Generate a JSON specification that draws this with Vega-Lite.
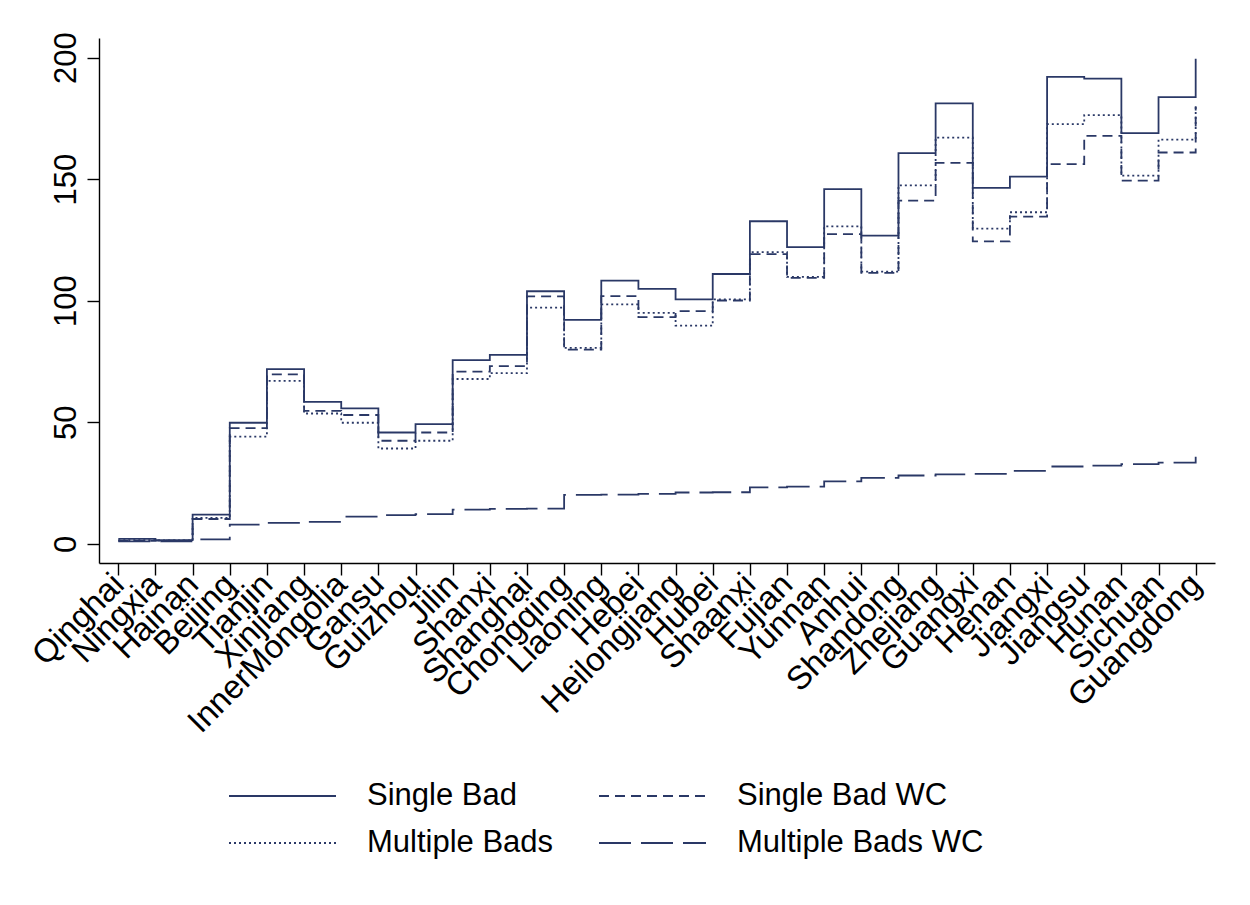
{
  "$schema": "https://vega.github.io/schema/vega-lite/v6.json",
  "width": 1116,
  "height": 525,
  "autosize": {"type": "none"},
  "padding": {"left": 99, "top": 38, "right": 35, "bottom": 342},
  "background": "white",
  "config": {
    "view": {"stroke": null},
    "font": "Liberation Sans",
    "axis": {"domainColor": "black", "tickColor": "black", "labelColor": "black", "grid": false, "domainWidth": 1.4, "tickWidth": 1.4}
  },
  "datasets": {
    "rows": [
      {"idx": 1, "province": "Qinghai", "series": "Single Bad", "value": 2.0},
      {"idx": 2, "province": "Ningxia", "series": "Single Bad", "value": 1.5},
      {"idx": 3, "province": "Hainan", "series": "Single Bad", "value": 12.0},
      {"idx": 4, "province": "Beijing", "series": "Single Bad", "value": 49.8},
      {"idx": 5, "province": "Tianjin", "series": "Single Bad", "value": 71.9},
      {"idx": 6, "province": "Xinjiang", "series": "Single Bad", "value": 58.4},
      {"idx": 7, "province": "InnerMongolia", "series": "Single Bad", "value": 55.7},
      {"idx": 8, "province": "Gansu", "series": "Single Bad", "value": 45.8},
      {"idx": 9, "province": "Guizhou", "series": "Single Bad", "value": 49.2},
      {"idx": 10, "province": "Jilin", "series": "Single Bad", "value": 75.6},
      {"idx": 11, "province": "Shanxi", "series": "Single Bad", "value": 77.7},
      {"idx": 12, "province": "Shanghai", "series": "Single Bad", "value": 103.9},
      {"idx": 13, "province": "Chongqing", "series": "Single Bad", "value": 92.1},
      {"idx": 14, "province": "Liaoning", "series": "Single Bad", "value": 108.3},
      {"idx": 15, "province": "Hebei", "series": "Single Bad", "value": 104.9},
      {"idx": 16, "province": "Heilongjiang", "series": "Single Bad", "value": 100.6},
      {"idx": 17, "province": "Hubei", "series": "Single Bad", "value": 111.0},
      {"idx": 18, "province": "Shaanxi", "series": "Single Bad", "value": 132.7},
      {"idx": 19, "province": "Fujian", "series": "Single Bad", "value": 122.1},
      {"idx": 20, "province": "Yunnan", "series": "Single Bad", "value": 145.9},
      {"idx": 21, "province": "Anhui", "series": "Single Bad", "value": 126.8},
      {"idx": 22, "province": "Shandong", "series": "Single Bad", "value": 160.7},
      {"idx": 23, "province": "Zhejiang", "series": "Single Bad", "value": 181.2},
      {"idx": 24, "province": "Guangxi", "series": "Single Bad", "value": 146.4},
      {"idx": 25, "province": "Henan", "series": "Single Bad", "value": 151.1},
      {"idx": 26, "province": "Jiangxi", "series": "Single Bad", "value": 192.1},
      {"idx": 27, "province": "Jiangsu", "series": "Single Bad", "value": 191.4},
      {"idx": 28, "province": "Hunan", "series": "Single Bad", "value": 169.0},
      {"idx": 29, "province": "Sichuan", "series": "Single Bad", "value": 183.8},
      {"idx": 30, "province": "Guangdong", "series": "Single Bad", "value": 199.6},

      {"idx": 1, "province": "Qinghai", "series": "Single Bad WC", "value": 1.2},
      {"idx": 2, "province": "Ningxia", "series": "Single Bad WC", "value": 1.3},
      {"idx": 3, "province": "Hainan", "series": "Single Bad WC", "value": 10.2},
      {"idx": 4, "province": "Beijing", "series": "Single Bad WC", "value": 47.6},
      {"idx": 5, "province": "Tianjin", "series": "Single Bad WC", "value": 69.7},
      {"idx": 6, "province": "Xinjiang", "series": "Single Bad WC", "value": 54.7},
      {"idx": 7, "province": "InnerMongolia", "series": "Single Bad WC", "value": 53.0},
      {"idx": 8, "province": "Gansu", "series": "Single Bad WC", "value": 42.4},
      {"idx": 9, "province": "Guizhou", "series": "Single Bad WC", "value": 45.8},
      {"idx": 10, "province": "Jilin", "series": "Single Bad WC", "value": 70.8},
      {"idx": 11, "province": "Shanxi", "series": "Single Bad WC", "value": 73.1},
      {"idx": 12, "province": "Shanghai", "series": "Single Bad WC", "value": 101.8},
      {"idx": 13, "province": "Chongqing", "series": "Single Bad WC", "value": 79.9},
      {"idx": 14, "province": "Liaoning", "series": "Single Bad WC", "value": 101.9},
      {"idx": 15, "province": "Hebei", "series": "Single Bad WC", "value": 93.3},
      {"idx": 16, "province": "Heilongjiang", "series": "Single Bad WC", "value": 95.7},
      {"idx": 17, "province": "Hubei", "series": "Single Bad WC", "value": 100.1},
      {"idx": 18, "province": "Shaanxi", "series": "Single Bad WC", "value": 119.2},
      {"idx": 19, "province": "Fujian", "series": "Single Bad WC", "value": 109.4},
      {"idx": 20, "province": "Yunnan", "series": "Single Bad WC", "value": 127.4},
      {"idx": 21, "province": "Anhui", "series": "Single Bad WC", "value": 111.5},
      {"idx": 22, "province": "Shandong", "series": "Single Bad WC", "value": 141.2},
      {"idx": 23, "province": "Zhejiang", "series": "Single Bad WC", "value": 156.7},
      {"idx": 24, "province": "Guangxi", "series": "Single Bad WC", "value": 124.4},
      {"idx": 25, "province": "Henan", "series": "Single Bad WC", "value": 134.6},
      {"idx": 26, "province": "Jiangxi", "series": "Single Bad WC", "value": 156.2},
      {"idx": 27, "province": "Jiangsu", "series": "Single Bad WC", "value": 167.8},
      {"idx": 28, "province": "Hunan", "series": "Single Bad WC", "value": 149.4},
      {"idx": 29, "province": "Sichuan", "series": "Single Bad WC", "value": 161.0},
      {"idx": 30, "province": "Guangdong", "series": "Single Bad WC", "value": 180.0},

      {"idx": 1, "province": "Qinghai", "series": "Multiple Bads", "value": 1.5},
      {"idx": 2, "province": "Ningxia", "series": "Multiple Bads", "value": 1.4},
      {"idx": 3, "province": "Hainan", "series": "Multiple Bads", "value": 10.7},
      {"idx": 4, "province": "Beijing", "series": "Multiple Bads", "value": 44.1},
      {"idx": 5, "province": "Tianjin", "series": "Multiple Bads", "value": 67.0},
      {"idx": 6, "province": "Xinjiang", "series": "Multiple Bads", "value": 53.6},
      {"idx": 7, "province": "InnerMongolia", "series": "Multiple Bads", "value": 49.8},
      {"idx": 8, "province": "Gansu", "series": "Multiple Bads", "value": 39.2},
      {"idx": 9, "province": "Guizhou", "series": "Multiple Bads", "value": 42.4},
      {"idx": 10, "province": "Jilin", "series": "Multiple Bads", "value": 67.8},
      {"idx": 11, "province": "Shanxi", "series": "Multiple Bads", "value": 70.2},
      {"idx": 12, "province": "Shanghai", "series": "Multiple Bads", "value": 97.2},
      {"idx": 13, "province": "Chongqing", "series": "Multiple Bads", "value": 80.6},
      {"idx": 14, "province": "Liaoning", "series": "Multiple Bads", "value": 98.5},
      {"idx": 15, "province": "Hebei", "series": "Multiple Bads", "value": 95.0},
      {"idx": 16, "province": "Heilongjiang", "series": "Multiple Bads", "value": 89.8},
      {"idx": 17, "province": "Hubei", "series": "Multiple Bads", "value": 100.6},
      {"idx": 18, "province": "Shaanxi", "series": "Multiple Bads", "value": 120.0},
      {"idx": 19, "province": "Fujian", "series": "Multiple Bads", "value": 109.8},
      {"idx": 20, "province": "Yunnan", "series": "Multiple Bads", "value": 130.6},
      {"idx": 21, "province": "Anhui", "series": "Multiple Bads", "value": 112.0},
      {"idx": 22, "province": "Shandong", "series": "Multiple Bads", "value": 147.5},
      {"idx": 23, "province": "Zhejiang", "series": "Multiple Bads", "value": 167.1},
      {"idx": 24, "province": "Guangxi", "series": "Multiple Bads", "value": 129.7},
      {"idx": 25, "province": "Henan", "series": "Multiple Bads", "value": 136.4},
      {"idx": 26, "province": "Jiangxi", "series": "Multiple Bads", "value": 172.7},
      {"idx": 27, "province": "Jiangsu", "series": "Multiple Bads", "value": 176.4},
      {"idx": 28, "province": "Hunan", "series": "Multiple Bads", "value": 151.5},
      {"idx": 29, "province": "Sichuan", "series": "Multiple Bads", "value": 166.3},
      {"idx": 30, "province": "Guangdong", "series": "Multiple Bads", "value": 180.8},

      {"idx": 1, "province": "Qinghai", "series": "Multiple Bads WC", "value": 1.0},
      {"idx": 2, "province": "Ningxia", "series": "Multiple Bads WC", "value": 1.0},
      {"idx": 3, "province": "Hainan", "series": "Multiple Bads WC", "value": 1.8},
      {"idx": 4, "province": "Beijing", "series": "Multiple Bads WC", "value": 7.9},
      {"idx": 5, "province": "Tianjin", "series": "Multiple Bads WC", "value": 8.6},
      {"idx": 6, "province": "Xinjiang", "series": "Multiple Bads WC", "value": 9.0},
      {"idx": 7, "province": "InnerMongolia", "series": "Multiple Bads WC", "value": 11.2},
      {"idx": 8, "province": "Gansu", "series": "Multiple Bads WC", "value": 11.8},
      {"idx": 9, "province": "Guizhou", "series": "Multiple Bads WC", "value": 12.2},
      {"idx": 10, "province": "Jilin", "series": "Multiple Bads WC", "value": 14.1},
      {"idx": 11, "province": "Shanxi", "series": "Multiple Bads WC", "value": 14.4},
      {"idx": 12, "province": "Shanghai", "series": "Multiple Bads WC", "value": 14.5},
      {"idx": 13, "province": "Chongqing", "series": "Multiple Bads WC", "value": 20.1},
      {"idx": 14, "province": "Liaoning", "series": "Multiple Bads WC", "value": 20.2},
      {"idx": 15, "province": "Hebei", "series": "Multiple Bads WC", "value": 20.5},
      {"idx": 16, "province": "Heilongjiang", "series": "Multiple Bads WC", "value": 21.1},
      {"idx": 17, "province": "Hubei", "series": "Multiple Bads WC", "value": 21.2},
      {"idx": 18, "province": "Shaanxi", "series": "Multiple Bads WC", "value": 23.2},
      {"idx": 19, "province": "Fujian", "series": "Multiple Bads WC", "value": 23.5},
      {"idx": 20, "province": "Yunnan", "series": "Multiple Bads WC", "value": 25.7},
      {"idx": 21, "province": "Anhui", "series": "Multiple Bads WC", "value": 27.1},
      {"idx": 22, "province": "Shandong", "series": "Multiple Bads WC", "value": 28.1},
      {"idx": 23, "province": "Zhejiang", "series": "Multiple Bads WC", "value": 28.6},
      {"idx": 24, "province": "Guangxi", "series": "Multiple Bads WC", "value": 28.8},
      {"idx": 25, "province": "Henan", "series": "Multiple Bads WC", "value": 30.0},
      {"idx": 26, "province": "Jiangxi", "series": "Multiple Bads WC", "value": 31.8},
      {"idx": 27, "province": "Jiangsu", "series": "Multiple Bads WC", "value": 32.2},
      {"idx": 28, "province": "Hunan", "series": "Multiple Bads WC", "value": 32.8},
      {"idx": 29, "province": "Sichuan", "series": "Multiple Bads WC", "value": 33.4},
      {"idx": 30, "province": "Guangdong", "series": "Multiple Bads WC", "value": 35.8}
    ]
  },
  "data": {"name": "rows"},
  "mark": {"type": "line", "interpolate": "step-after", "color": "#2a3866", "strokeWidth": 1.8},
  "encoding": {
    "x": {
      "field": "province",
      "type": "ordinal",
      "sort": null,
      "scale": {"type": "point", "padding": 0.52},
      "axis": {"title": null, "labelAngle": -45, "labelFontSize": 33, "labelLimit": 400, "tickSize": 12, "labelPadding": 4, "labelAlign": "right", "labelBaseline": "middle", "labelOverlap": false}
    },
    "y": {
      "field": "value",
      "type": "quantitative",
      "scale": {"domain": [-7.9, 208.1], "nice": false, "zero": false},
      "axis": {"title": null, "values": [0, 50, 100, 150, 200], "labelAngle": 270, "labelAlign": "center", "labelBaseline": "alphabetic", "labelFontSize": 31, "tickSize": 12, "labelPadding": 12}
    },
    "strokeDash": {
      "field": "series",
      "type": "nominal",
      "scale": {
        "domain": ["Single Bad", "Multiple Bads", "Single Bad WC", "Multiple Bads WC"],
        "range": [[1, 0], [2, 3], [10, 6], [32, 10]]
      },
      "legend": {
        "title": null,
        "orient": "none",
        "legendX": 129,
        "legendY": 742,
        "columns": 2,
        "padding": 0,
        "labelFontSize": 31,
        "labelColor": "black",
        "labelLimit": 400,
        "symbolType": "stroke",
        "symbolSize": 11450,
        "symbolStrokeWidth": 1.8,
        "symbolStrokeColor": "#2a3866",
        "labelOffset": 30,
        "columnPadding": 44,
        "rowPadding": 15,
        "clipHeight": 32
      }
    },
    "order": {"field": "idx", "type": "quantitative"}
  }
}
